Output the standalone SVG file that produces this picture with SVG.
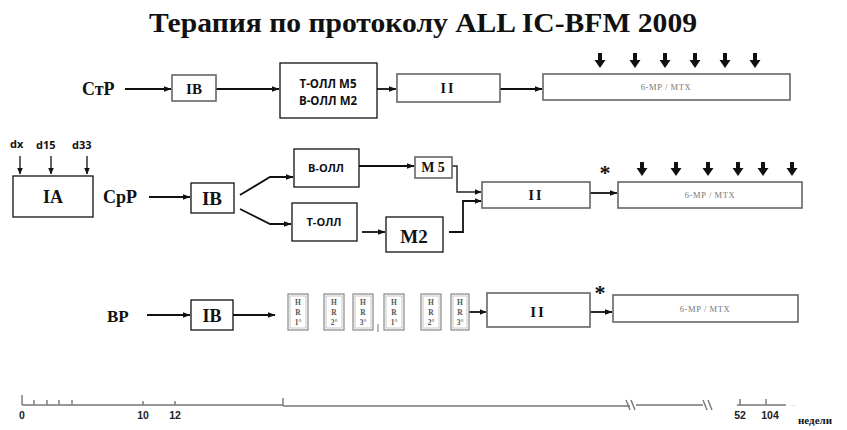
<svg xmlns="http://www.w3.org/2000/svg" width="847" height="430" viewBox="0 0 847 430">
<defs>
<marker id="ah" markerWidth="8" markerHeight="6" refX="7.5" refY="3" orient="auto" markerUnits="userSpaceOnUse"><path d="M0,0 L8,3 L0,6 z" fill="#111"/></marker>
<marker id="ahs" markerWidth="7" markerHeight="6" refX="6.5" refY="3" orient="auto" markerUnits="userSpaceOnUse"><path d="M0,0 L7,3 L0,6 z" fill="#111"/></marker>
</defs>
<style>
.bk{fill:#fff;stroke:#111;stroke-width:1.3}
.gb{fill:#fff;stroke:#666;stroke-width:1.6}
.hr{fill:#fff;stroke:#888;stroke-width:1.2}
.hri{fill:none;stroke:#bbb;stroke-width:0.8}
.ln{fill:none;stroke:#111;stroke-width:1.8}
.ls{fill:none;stroke:#222;stroke-width:1.4}
.ser{font-family:"Liberation Serif","Times New Roman",serif;font-weight:bold;fill:#111}
.sans{font-family:"Open Sans","Liberation Sans",Arial,sans-serif;font-weight:bold;fill:#111}
.mp{font-family:"Liberation Serif",serif;font-size:8.5px;fill:#777;letter-spacing:0.6px}
.hrt{font-family:"Liberation Serif",serif;font-size:7.5px;fill:#555;font-weight:bold}
.ax{fill:none;stroke:#777;stroke-width:1.4}
.axl{font-family:"Liberation Sans",Arial,sans-serif;font-weight:bold;font-size:10.5px;fill:#222}
.da{fill:#111}
</style>
<rect width="847" height="430" fill="#fff"/>
<text class="ser" x="423" y="32" font-size="28" text-anchor="middle" textLength="548" lengthAdjust="spacingAndGlyphs">Терапия по протоколу ALL IC-BFM 2009</text>

<g id="labels">
<text class="ser" x="82" y="95" font-size="18">СтР</text>
<text class="ser" x="103" y="203" font-size="18">СрР</text>
<text class="ser" x="107" y="322" font-size="17">ВР</text>
</g>

<g id="connectors">
<line class="ln" x1="125" y1="89" x2="171" y2="89" marker-end="url(#ah)"/>
<line class="ln" x1="216" y1="89" x2="279" y2="89" marker-end="url(#ah)"/>
<line class="ln" x1="377" y1="89" x2="396" y2="89" marker-end="url(#ah)"/>
<line class="ln" x1="500" y1="89" x2="542" y2="89" marker-end="url(#ah)"/>
<line class="ln" x1="149" y1="197" x2="190" y2="197" marker-end="url(#ah)"/>
<polyline class="ln" points="240,195 270,177 293,177" marker-end="url(#ah)"/>
<polyline class="ln" points="240,209 270,224 291,224" marker-end="url(#ah)"/>
<line class="ln" x1="359" y1="166" x2="414" y2="166" marker-end="url(#ah)"/>
<line class="ln" x1="362" y1="232" x2="385" y2="232" marker-end="url(#ah)"/>
<polyline class="ls" points="452,166 457,166 457,192 481,192" marker-end="url(#ahs)"/>
<polyline class="ln" points="449,232 463,232 463,201 481,201" marker-end="url(#ahs)"/>
<line class="ln" x1="590" y1="193" x2="617" y2="193" marker-end="url(#ah)"/>
<line class="ln" x1="147" y1="315" x2="190" y2="315" marker-end="url(#ah)"/>
<line class="ln" x1="233" y1="315" x2="275" y2="315" marker-end="url(#ah)"/>
<line class="ln" x1="469" y1="312" x2="486" y2="312" marker-end="url(#ahs)"/>
<line class="ln" x1="590" y1="312" x2="612" y2="312" marker-end="url(#ah)"/>
<line x1="20" y1="156" x2="20" y2="174" class="ls" marker-end="url(#ahs)"/>
<line x1="51" y1="156" x2="51" y2="174" class="ls" marker-end="url(#ahs)"/>
<line x1="87" y1="156" x2="87" y2="174" class="ls" marker-end="url(#ahs)"/>
</g>

<g id="doses-row1" class="da">
<path d="M598,53h4v7h3.5l-5.5,8l-5.5,-8h3.5z"/>
<path d="M633,53h4v7h3.5l-5.5,8l-5.5,-8h3.5z"/>
<path d="M663,53h4v7h3.5l-5.5,8l-5.5,-8h3.5z"/>
<path d="M693,53h4v7h3.5l-5.5,8l-5.5,-8h3.5z"/>
<path d="M723,53h4v7h3.5l-5.5,8l-5.5,-8h3.5z"/>
<path d="M753,53h4v7h3.5l-5.5,8l-5.5,-8h3.5z"/>
</g>
<g id="doses-row2" class="da">
<path d="M640,162h4v6h3.5l-5.5,8l-5.5,-8h3.5z"/>
<path d="M674,162h4v6h3.5l-5.5,8l-5.5,-8h3.5z"/>
<path d="M706,162h4v6h3.5l-5.5,8l-5.5,-8h3.5z"/>
<path d="M736,162h4v6h3.5l-5.5,8l-5.5,-8h3.5z"/>
<path d="M761,162h4v6h3.5l-5.5,8l-5.5,-8h3.5z"/>
<path d="M790,162h4v6h3.5l-5.5,8l-5.5,-8h3.5z"/>
</g>

<g id="n-ib1"><rect class="gb" x="172" y="75" width="44" height="26"/><text class="ser" x="194" y="94" font-size="15" fill="#333" text-anchor="middle">IB</text></g>
<g id="n-tb"><rect class="bk" x="280" y="63" width="97" height="55"/><text class="sans" x="328" y="88" font-size="11.5" text-anchor="middle">Т-ОЛЛ M5</text><text class="sans" x="328" y="105" font-size="11.5" text-anchor="middle">В-ОЛЛ M2</text></g>
<g id="n-ii1"><rect class="gb" x="397" y="74" width="103" height="28"/><text class="ser" x="448" y="93" font-size="14" text-anchor="middle" letter-spacing="2">II</text></g>
<g id="n-mp1"><rect class="gb" x="543" y="74" width="247" height="26"/><text class="mp" x="666" y="90" text-anchor="middle">6-MP / MTX</text></g>

<g id="n-days"><text class="sans" x="10" y="148" font-size="11" fill="#333">dx</text><text class="sans" x="36" y="149" font-size="11" fill="#333">d15</text><text class="sans" x="72" y="149" font-size="11" fill="#333">d33</text></g>
<g id="n-ia"><rect class="bk" x="13" y="176" width="80" height="41"/><text class="ser" x="53" y="203" font-size="18" text-anchor="middle">IA</text></g>
<g id="n-ib2"><rect class="bk" x="191" y="183" width="43" height="30"/><text class="ser" x="212" y="205" font-size="19" text-anchor="middle">IB</text></g>
<g id="n-bo"><rect class="bk" x="294" y="149" width="65" height="38"/><text class="sans" x="326" y="172" font-size="11" text-anchor="middle">В-ОЛЛ</text></g>
<g id="n-to"><rect class="bk" x="292" y="203" width="65" height="38"/><text class="sans" x="324" y="226" font-size="11" text-anchor="middle">Т-ОЛЛ</text></g>
<g id="n-m5"><rect class="gb" x="415" y="157" width="37" height="21"/><text class="ser" x="433" y="172" font-size="14" fill="#333" text-anchor="middle">M 5</text></g>
<g id="n-m2"><rect class="bk" x="386" y="217" width="57" height="35"/><text class="ser" x="414" y="243" font-size="19" text-anchor="middle">M2</text></g>
<g id="n-ii2"><rect class="gb" x="482" y="182" width="108" height="26"/><text class="ser" x="536" y="200" font-size="14" text-anchor="middle" letter-spacing="2">II</text></g>
<text class="ser" x="605" y="180" font-size="22" text-anchor="middle">*</text>
<g id="n-mp2"><rect class="gb" x="618" y="182" width="184" height="26"/><text class="mp" x="710" y="198" text-anchor="middle">6-MP / MTX</text></g>

<g id="n-ib3"><rect class="bk" x="191" y="300" width="42" height="30"/><text class="ser" x="212" y="322" font-size="18" text-anchor="middle">IB</text></g>
<g id="n-hr1"><rect class="hr" x="288" y="294" width="20" height="36"/><rect class="hri" x="290" y="296" width="16" height="32"/><text class="hrt" x="298" y="305" text-anchor="middle">H</text><text class="hrt" x="298" y="315" text-anchor="middle">R</text><text class="hrt" x="298" y="325" text-anchor="middle">1°</text></g>
<g id="n-hr2"><rect class="hr" x="324" y="294" width="20" height="36"/><rect class="hri" x="326" y="296" width="16" height="32"/><text class="hrt" x="334" y="305" text-anchor="middle">H</text><text class="hrt" x="334" y="315" text-anchor="middle">R</text><text class="hrt" x="334" y="325" text-anchor="middle">2°</text></g>
<g id="n-hr3"><rect class="hr" x="353" y="294" width="20" height="36"/><rect class="hri" x="355" y="296" width="16" height="32"/><text class="hrt" x="363" y="305" text-anchor="middle">H</text><text class="hrt" x="363" y="315" text-anchor="middle">R</text><text class="hrt" x="363" y="325" text-anchor="middle">3°</text></g>
<line x1="378" y1="324" x2="378" y2="332" stroke="#777" stroke-width="1"/>
<g id="n-hr4"><rect class="hr" x="384" y="294" width="20" height="36"/><rect class="hri" x="386" y="296" width="16" height="32"/><text class="hrt" x="394" y="305" text-anchor="middle">H</text><text class="hrt" x="394" y="315" text-anchor="middle">R</text><text class="hrt" x="394" y="325" text-anchor="middle">1°</text></g>
<g id="n-hr5"><rect class="hr" x="421" y="294" width="20" height="36"/><rect class="hri" x="423" y="296" width="16" height="32"/><text class="hrt" x="431" y="305" text-anchor="middle">H</text><text class="hrt" x="431" y="315" text-anchor="middle">R</text><text class="hrt" x="431" y="325" text-anchor="middle">2°</text></g>
<g id="n-hr6"><rect class="hr" x="451" y="294" width="18" height="36"/><rect class="hri" x="453" y="296" width="14" height="32"/><text class="hrt" x="460" y="305" text-anchor="middle">H</text><text class="hrt" x="460" y="315" text-anchor="middle">R</text><text class="hrt" x="460" y="325" text-anchor="middle">3°</text></g>
<g id="n-ii3"><rect class="gb" x="487" y="293" width="103" height="34"/><text class="ser" x="538" y="317" font-size="15" text-anchor="middle" letter-spacing="2">II</text></g>
<text class="ser" x="600" y="300" font-size="22" text-anchor="middle">*</text>
<g id="n-mp3"><rect class="gb" x="613" y="295" width="185" height="27"/><text class="mp" x="705" y="312" text-anchor="middle">6-MP / MTX</text></g>

<g id="timeline">
<path class="ax" d="M22,405 H283 M283,406 H630 M636,405 H703 M737,405 H786"/>
<path class="ax" d="M22,395 V405 M34,400 V405 M47,400 V405 M59,400 V405 M72,400 V405 M143,401 V405 M175,401 V405 M283,398 V406 M740,399 V405 M766,399 V405"/>
<path class="ax" d="M626,400 L630,410 M631,400 L635,410 M703,400 L707,410 M708,400 L712,410"/>
<text x="789" y="406" font-family="Liberation Sans,sans-serif" font-size="8" fill="#bbb">...</text>
<text class="axl" x="22" y="419" text-anchor="middle">0</text>
<text class="axl" x="143" y="419" text-anchor="middle">10</text>
<text class="axl" x="175" y="419" text-anchor="middle">12</text>
<text class="axl" x="740" y="419" text-anchor="middle">52</text>
<text class="axl" x="770" y="419" text-anchor="middle">104</text>
<text class="ser" x="798" y="424" font-size="11" fill="#222">недели</text>
</g>
</svg>
